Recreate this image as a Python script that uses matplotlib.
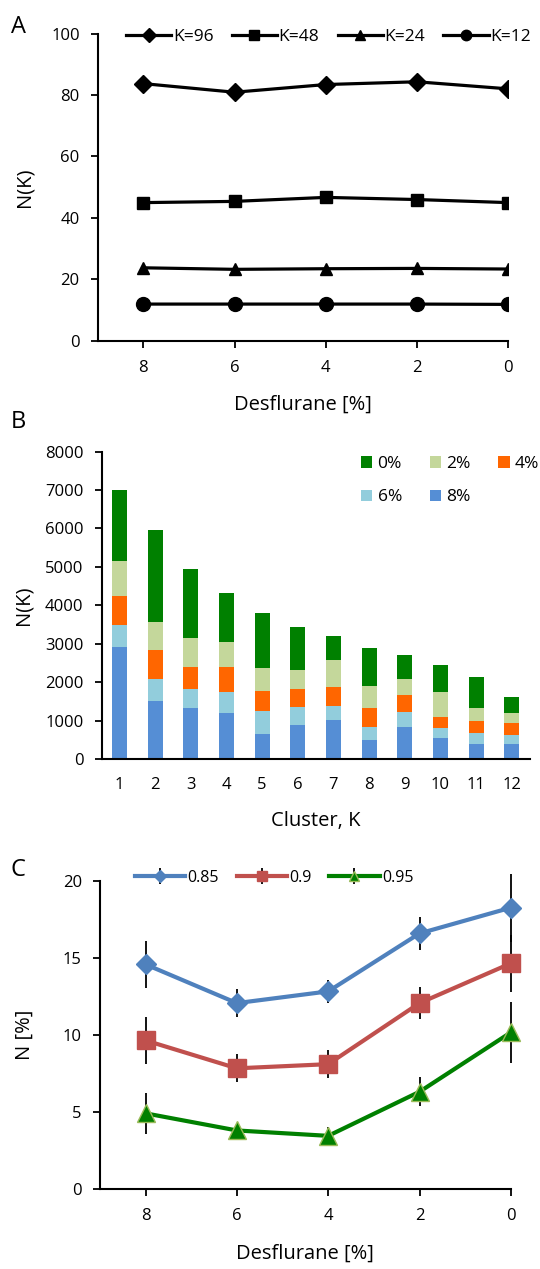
import matplotlib.pyplot as plt
import numpy as np

plt.rcParams['font.family'] = ['Open Sans', 'DejaVu Sans']

# Panel A
desflurane = [8, 6, 4, 2, 0]
k96 = [83.7, 80.9, 83.4, 84.3, 82.0]
k48 = [45.0, 45.4, 46.7, 46.0, 45.0]
k24 = [23.8, 23.3, 23.5, 23.6, 23.4]
k12 = [12.0, 12.0, 12.0, 12.0, 11.9]

# Panel B (segment heights, stacked from 8% at bottom to 0% on top)
clusters = list(range(1, 13))
b8 = [2910, 1520, 1330, 1200, 650, 885, 1005, 485, 830, 555, 400, 390]
b6 = [580, 560, 500, 540, 590, 460, 375, 345, 400, 245, 275, 245]
b4 = [755, 745, 570, 665, 530, 475, 495, 500, 440, 305, 320, 305]
b2 = [895, 735, 740, 640, 590, 500, 690, 565, 410, 640, 320, 245]
b0 = [1870, 2385, 1810, 1285, 1430, 1120, 640, 990, 630, 700, 830, 440]

# Panel C
c85 = [14.57, 12.06, 12.82, 16.58, 18.25]
c85_err = [1.55, 0.9, 0.75, 1.05, 2.2]
c90 = [9.64, 7.83, 8.1, 12.06, 14.64]
c90_err = [1.5, 0.9, 0.9, 1.05, 1.85]
c95 = [4.91, 3.8, 3.45, 6.31, 10.16]
c95_err = [1.35, 0.3, 0.6, 0.95, 2.0]

fig = plt.figure(figsize=(5.4, 12.69), dpi=100)

def style(ax):
    ax.spines['top'].set_visible(False)
    ax.spines['right'].set_visible(False)
    ax.spines['left'].set_linewidth(1.5)
    ax.spines['bottom'].set_linewidth(1.5)
    ax.tick_params(labelsize=12, width=1.3, length=5, direction='out')
    ax.tick_params(axis='y', pad=8)

# ---- A ----
axA = fig.add_axes([0.181, 0.7313, 0.760, 0.2423])
axA.plot(desflurane, k96, color='black', lw=2.3, marker='D', ms=9, label='K=96')
axA.plot(desflurane, k48, color='black', lw=2.3, marker='s', ms=9, label='K=48')
axA.plot(desflurane, k24, color='black', lw=2.3, marker='^', ms=9, label='K=24')
axA.plot(desflurane, k12, color='black', lw=2.3, marker='o', ms=10, label='K=12')
axA.set_xlim(9, 0)
axA.set_ylim(0, 100)
axA.set_yticks(range(0, 101, 20))
axA.set_xticks(desflurane)
style(axA)
axA.tick_params(axis='x', pad=9)
axA.set_ylabel('N(K)', fontsize=14.5, labelpad=12)
axA.set_xlabel('Desflurane [%]', fontsize=14.5, labelpad=13)
axA.legend(loc='upper right', bbox_to_anchor=(1.056, 1.015), ncol=4, frameon=False,
           fontsize=12.5, handlelength=2.6, handletextpad=0.1, columnspacing=1.05,
           markerscale=0.75, borderpad=0, borderaxespad=0)
fig.text(0.02, 0.988, 'A', fontsize=17, va='top')

# ---- B ----
axB = fig.add_axes([0.188, 0.4019, 0.793, 0.2423])
colors = {'8%': '#558ED5', '6%': '#92CDDC', '4%': '#FF6600', '2%': '#C4D79B', '0%': '#008000'}
bottom = np.zeros(len(clusters))
bars = {}
for name, vals in [('8%', b8), ('6%', b6), ('4%', b4), ('2%', b2), ('0%', b0)]:
    bars[name] = axB.bar(clusters, vals, bottom=bottom, width=0.42, color=colors[name], label=name)
    bottom += np.array(vals)
axB.set_xlim(0.5, 12.5)
axB.set_ylim(0, 8000)
axB.set_yticks(range(0, 8001, 1000))
axB.set_xticks(clusters)
style(axB)
axB.tick_params(axis='x', length=0, pad=13)
axB.set_ylabel('N(K)', fontsize=14.5, labelpad=8)
axB.set_xlabel('Cluster, K', fontsize=14.5, labelpad=13)
order = ['0%', '6%', '2%', '8%', '4%']
axB.legend([bars[o] for o in order], order, loc='upper left', bbox_to_anchor=(0.606, 0.985),
           ncol=3, frameon=False, fontsize=12.5, handlelength=0.65, handleheight=0.65,
           handletextpad=0.3, columnspacing=1.6, labelspacing=1.0,
           borderpad=0, borderaxespad=0)
fig.text(0.02, 0.677, 'B', fontsize=17, va='top')

# ---- C ----
axC = fig.add_axes([0.185, 0.063, 0.761, 0.243])
axC.errorbar(desflurane, c85, yerr=c85_err, color='#4F81BD', lw=3, marker='D', ms=10,
             ecolor='black', elinewidth=1.3, capsize=0, label='0.85', clip_on=False)
axC.errorbar(desflurane, c90, yerr=c90_err, color='#C0504D', lw=3, marker='s', ms=13,
             ecolor='black', elinewidth=1.3, capsize=0, label='0.9', clip_on=False)
axC.errorbar(desflurane, c95, yerr=c95_err, color='#008000', lw=3, marker='^', ms=13,
             mec='#9BBB59', ecolor='black', elinewidth=1.3, capsize=0, label='0.95', clip_on=False)
axC.set_xlim(9, 0)
axC.set_ylim(0, 20)
axC.set_yticks(range(0, 21, 5))
axC.set_xticks(desflurane)
style(axC)
axC.tick_params(axis='x', pad=9)
axC.set_ylabel('N [%]', fontsize=14.5, labelpad=20)
axC.set_xlabel('Desflurane [%]', fontsize=14.5, labelpad=14)
hC, lC = axC.get_legend_handles_labels()
axC.legend(hC, lC, loc='center left', bbox_to_anchor=(0.085, 1.01), ncol=3, frameon=False,
           fontsize=11.5, handlelength=3.15, handletextpad=0.15, columnspacing=1.1,
           markerscale=0.6, borderpad=0, borderaxespad=0)
fig.text(0.02, 0.324, 'C', fontsize=17, va='top')

fig.savefig('out.png', dpi=100)
